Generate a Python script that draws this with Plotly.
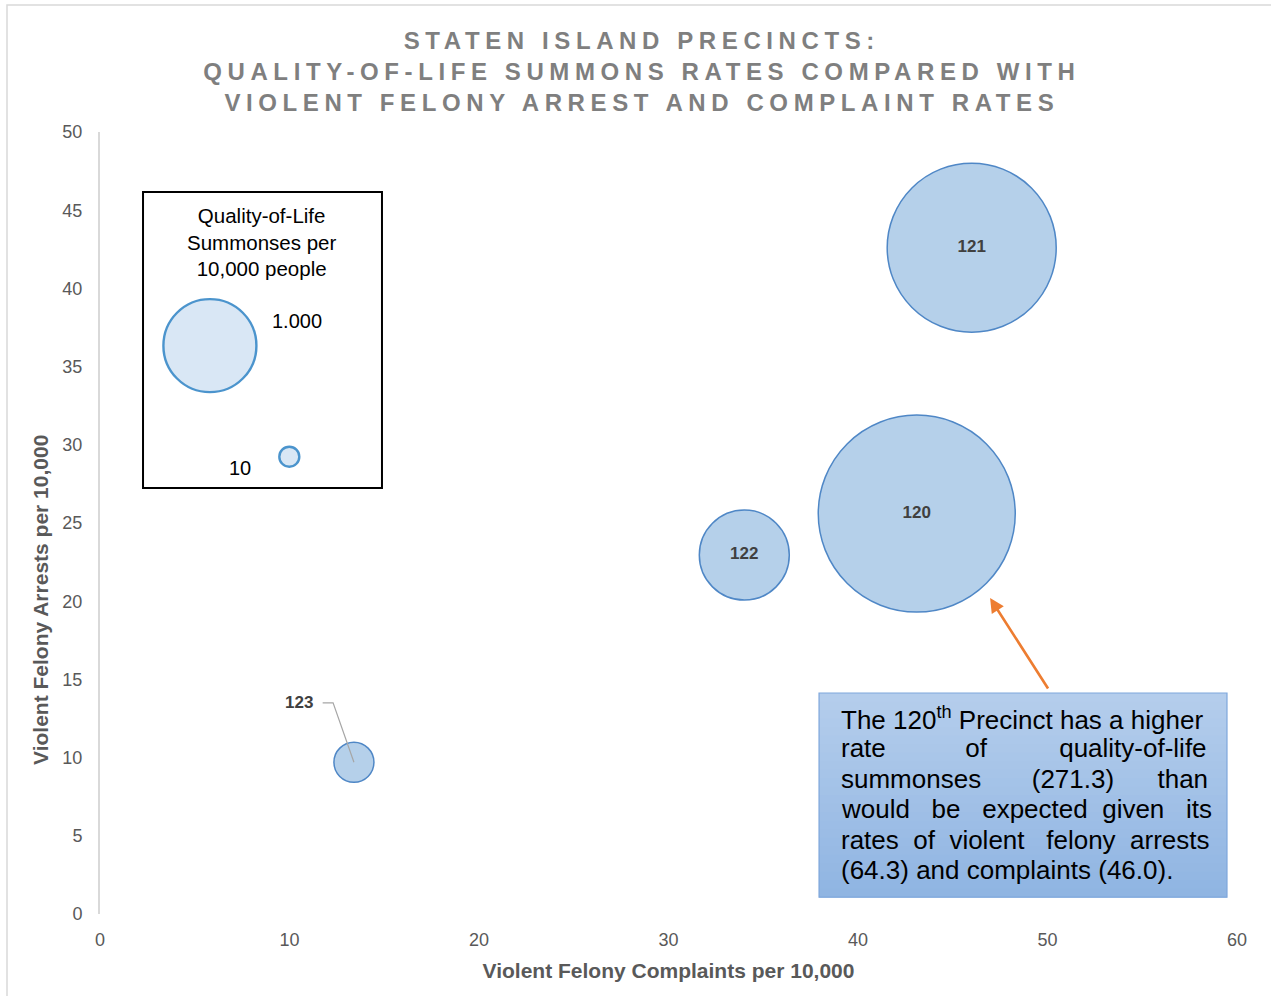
import plotly.graph_objects as go

# Precinct data
precincts = ["120", "121", "122", "123"]
complaints = [43.1, 46.0, 34.0, 13.4]      # violent felony complaints per 10,000
arrests = [25.6, 42.6, 22.95, 9.7]         # violent felony arrests per 10,000
summonses = [271.3, 199.7, 56.6, 11.2]     # quality-of-life summonses per 10,000

# Size key values (legend box)
key_values = ["1.000", "10"]
key_x = [5.8, 9.99]
key_y = [36.34, 29.24]

x_ticks = [0, 10, 20, 30, 40, 50, 60]
y_ticks = [0, 5, 10, 15, 20, 25, 30, 35, 40, 45, 50]

GRAY = "#595959"
SANS = "Liberation Sans, Arial, sans-serif"

fig = go.Figure()

# bubbles, area proportional to summons rate
fig.add_trace(go.Scatter(
    x=complaints, y=arrests, mode="markers",
    marker=dict(size=summonses, sizemode="area", sizeref=271.3 / (2 * 98.5 ** 2),
                color="#b5d0ea", opacity=1,
                line=dict(color="#4f87c6", width=1.5)),
    hoverinfo="skip", showlegend=False,
))
# labels inside the three big bubbles
fig.add_trace(go.Scatter(
    x=complaints[:3], y=arrests[:3], mode="text", text=precincts[:3],
    textposition="middle center",
    textfont=dict(family=SANS, size=17, color="#404040", weight="bold"),
    hoverinfo="skip", showlegend=False,
))

# size key inside the box
fig.add_trace(go.Scatter(
    x=key_x, y=key_y, mode="markers",
    marker=dict(size=[93, 20], color="#cadef1",
                line=dict(color="#0068b8", width=2.4)),
    hoverinfo="skip", showlegend=False,
))

fig.add_shape(type="rect", x0=2.27, x1=14.88, y0=27.24, y1=46.16,
              line=dict(color="black", width=2), fillcolor="rgba(0,0,0,0)")
fig.add_annotation(x=8.5, y=42.97, text="Quality-of-Life<br>Summonses per<br>10,000 people",
                   showarrow=False, font=dict(family=SANS, size=20.5, color="black"))
fig.add_annotation(x=key_x[0] + 4.6, y=key_y[0] + 1.6, text=key_values[0], showarrow=False,
                   font=dict(family=SANS, size=20, color="black"))
fig.add_annotation(x=key_x[1] - 2.6, y=key_y[1] - 0.7, text=key_values[1], showarrow=False,
                   font=dict(family=SANS, size=20, color="black"))

# label for 123 with leader line
cx, cy = complaints[3], arrests[3]
fig.add_shape(type="path",
              path=f"M {cx-1.65},{cy+3.8} L {cx-1.1},{cy+3.8} L {cx},{cy}",
              line=dict(color="#a6a6a6", width=1.2))
fig.add_annotation(x=cx - 2.9, y=cy + 3.8, text="123", showarrow=False,
                   font=dict(family=SANS, size=17, color="#404040", weight="bold"))

# callout box with a light vertical gradient
bx0, bx1, by0, by1 = 0.6324, 0.9912, 0.0217, 0.2826
top_rgb, bot_rgb = (181, 206, 236), (143, 180, 226)
n = 24
for i in range(n):
    t = (i + 0.5) / n
    c = tuple(round(top_rgb[k] + (bot_rgb[k] - top_rgb[k]) * t) for k in range(3))
    fig.add_shape(type="rect", xref="paper", yref="paper", x0=bx0, x1=bx1,
                  y0=by1 - (by1 - by0) * (i + 1) / n - 0.0005,
                  y1=by1 - (by1 - by0) * i / n,
                  fillcolor="rgb(%d,%d,%d)" % c, line=dict(width=0))
fig.add_shape(type="rect", xref="paper", yref="paper", x0=bx0, x1=bx1, y0=by0, y1=by1,
              fillcolor="rgba(0,0,0,0)", line=dict(color="#7ea7dc", width=1.2))

nb = "\u00a0"
callout_lines = [
    "The 120<sup>th</sup> Precinct has a higher",
    "rate" + nb * 11 + "of" + nb * 10 + "quality-of-life",
    "summonses" + nb * 7 + "(271.3)" + nb * 6 + "than",
    "would" + nb * 3 + "be" + nb * 3 + "expected" + nb * 2 + "given" + nb * 3 + "its",
    "rates" + nb * 2 + "of" + nb * 2 + "violent" + nb * 3 + "felony" + nb * 2 + "arrests",
    "(64.3) and complaints (46.0).",
]
for i, line in enumerate(callout_lines):
    py = 718 + 30.4 * i
    fig.add_annotation(xref="paper", yref="paper", x=(839 - 100) / 1137, y=(914 - py) / 782,
                       xanchor="left", yanchor="middle", align="left",
                       text=line, showarrow=False,
                       font=dict(family=SANS, size=26, color="black"))

# arrow to 120
fig.add_annotation(x=46.97, y=20.2, ax=50.08, ay=14.32, axref="x", ayref="y",
                   text="", showarrow=True, arrowhead=2, arrowsize=1.1,
                   arrowwidth=2.6, arrowcolor="#ed7d31")

# y axis title placed like the original
fig.add_annotation(xref="paper", yref="paper", x=-0.0528, y=0.4015,
                   xanchor="center", yanchor="middle",
                   text="Violent Felony Arrests per 10,000", textangle=-90,
                   showarrow=False, font=dict(family=SANS, size=21, color=GRAY, weight="bold"))

# outer chart border
fig.add_shape(type="rect", xref="paper", yref="paper",
              x0=-0.0818, x1=1.1, y0=-0.2, y1=1.1624,
              line=dict(color="#d9d9d9", width=1.5), fillcolor="rgba(0,0,0,0)", layer="below")

fig.update_layout(
    width=1271, height=996,
    margin=dict(l=100, r=34, t=132, b=82),
    paper_bgcolor="white", plot_bgcolor="white",
    title=dict(
        text="STATEN ISLAND PRECINCTS:<br>QUALITY-OF-LIFE SUMMONS RATES COMPARED WITH<br>VIOLENT FELONY ARREST AND COMPLAINT RATES",
        x=0.505, xanchor="center", y=1 - 49 / 996, yanchor="top",
        font=dict(family=SANS, size=24, color="#7f7f7f", weight="bold"),
    ),
    xaxis=dict(range=[0, 60], tickvals=x_ticks, showgrid=False, zeroline=False,
               showline=False, ticks="", ticklabelstandoff=13,
               tickfont=dict(family=SANS, size=18, color=GRAY),
               title=dict(text="Violent Felony Complaints per 10,000", standoff=14,
                          font=dict(family=SANS, size=21, color=GRAY, weight="bold"))),
    yaxis=dict(range=[0, 50], tickvals=y_ticks, showgrid=False, zeroline=False,
               showline=True, linecolor="#d9d9d9", linewidth=2, ticks="",
               ticklabelstandoff=12,
               tickfont=dict(family=SANS, size=18, color=GRAY)),
)

# no page margin; spaced-out capitals in the title like the original
post = ("document.body.style.margin='0';"
        "document.querySelectorAll('.gtitle').forEach(function(t){t.style.letterSpacing='5.6px';});")
fig.write_html("out.html", post_script=post, config={"displayModeBar": False})
